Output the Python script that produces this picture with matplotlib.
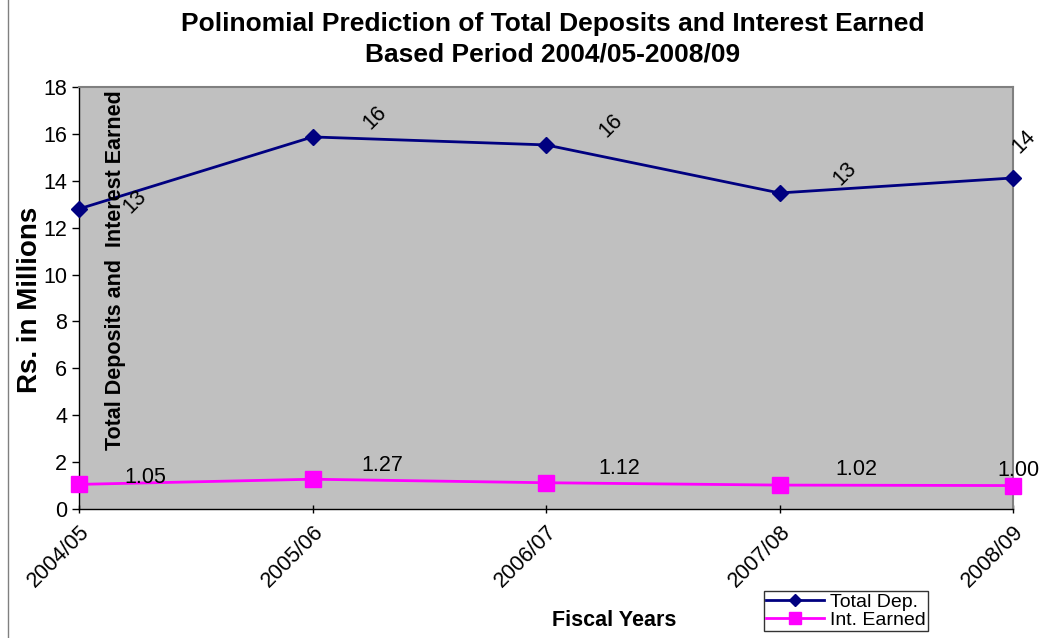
import matplotlib
matplotlib.use("Agg")
import matplotlib.pyplot as plt
from matplotlib.patches import Rectangle

plt.rcParams['font.family'] = ['Liberation Sans', 'DejaVu Sans']

years = ["2004/05", "2005/06", "2006/07", "2007/08", "2008/09"]
total_dep = [12.8, 15.87, 15.53, 13.48, 14.12]
total_dep_labels = ["13", "16", "16", "13", "14"]
int_earned = [1.05, 1.27, 1.12, 1.02, 1.00]
int_labels = ["1.05", "1.27", "1.12", "1.02", "1.00"]

W, H = 1043, 638
fig = plt.figure(figsize=(W / 100, H / 100), dpi=100)
ax = fig.add_axes([79 / W, 1 - 509 / H, (1013 - 79) / W, (509 - 87) / H])
ax.set_facecolor('#C0C0C0')

x = list(range(len(years)))
ax.plot(x, total_dep, color='#000080', lw=2, marker='D', ms=8, label='Total Dep.', clip_on=False, zorder=3)
ax.plot(x, int_earned, color='#FF00FF', lw=2, marker='s', ms=11, label='Int. Earned', clip_on=False, zorder=3)

dep_off = [(40, 5), (45, 14), (47, 14), (47, 14), (8, 26)]
for i, (v, t) in enumerate(zip(total_dep, total_dep_labels)):
    ax.annotate(t, (i, v), xytext=dep_off[i], textcoords='offset points', rotation=45,
                ha='center', va='center', fontsize=15.5, zorder=4)
int_off = [(48, 5), (50, 10), (53, 10), (55, 11), (4, 11)]
for i, (v, t) in enumerate(zip(int_earned, int_labels)):
    ax.annotate(t, (i, v), xytext=int_off[i], textcoords='offset points',
                ha='center', va='center', fontsize=15.5, zorder=4)

ax.set_xlim(0, 4)
ax.set_ylim(0, 18)
ax.set_yticks(range(0, 19, 2))
ax.set_xticks(x)
ax.set_xticklabels(years, rotation=45, ha='right', va='top', rotation_mode='anchor', fontsize=15.5)
ax.tick_params(axis='y', labelsize=15.5, length=5, direction='out', width=1)
ax.tick_params(axis='x', length=6, direction='inout', width=1, pad=6)

for s in ['top', 'right']:
    ax.spines[s].set_color('#808080')
    ax.spines[s].set_linewidth(1.5)
for s in ['left', 'bottom']:
    ax.spines[s].set_color('#000000')
    ax.spines[s].set_linewidth(1)

fig.text(553 / W, 1 - 24 / H, "Polinomial Prediction of Total Deposits and Interest Earned",
         ha='center', va='center', fontsize=19, fontweight='bold')
fig.text(553 / W, 1 - 55 / H, "Based Period 2004/05-2008/09",
         ha='center', va='center', fontsize=19, fontweight='bold')

fig.text(30 / W, 1 - 300 / H, "Rs. in Millions", rotation=90, ha='center', va='center',
         fontsize=20, fontweight='bold')
fig.text(116 / W, 1 - 270 / H, "Total Deposits and  Interest Earned", rotation=90,
         ha='center', va='center', fontsize=15.5, fontweight='bold')
fig.text(614 / W, 1 - 621 / H, "Fiscal Years", ha='center', va='center',
         fontsize=15.5, fontweight='bold')

leg = fig.legend(loc='upper left', bbox_to_anchor=(764 / W, 1 - 591 / H), fontsize=14,
                 frameon=True, fancybox=False, edgecolor='#000000', borderpad=0.1,
                 labelspacing=0.05, handlelength=3.0, handletextpad=0.3, borderaxespad=0,
                 markerscale=0.75)
leg.get_frame().set_linewidth(1)

fig.patches.append(Rectangle((8 / W, -0.01), 1.02, 1.02, transform=fig.transFigure,
                             fill=False, edgecolor='#808080', lw=1))

fig.savefig('out.png', dpi=100, facecolor='white')
